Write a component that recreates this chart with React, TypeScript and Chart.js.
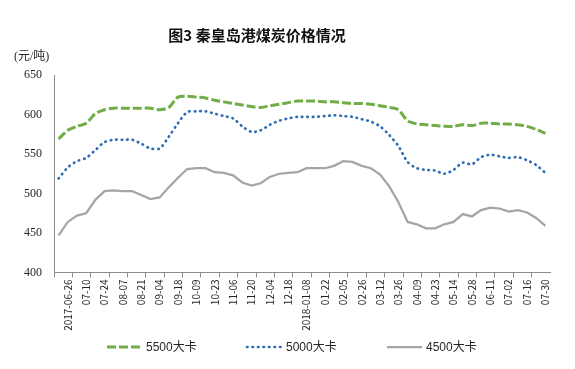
import { useEffect, useRef } from 'react';
import { Chart, registerables } from 'chart.js';

Chart.register(...registerables);

const chartTitle = '图3 秦皇岛港煤炭价格情况';
const unitLabel = '(元/吨)';

const categories = [
  '2017-06-19', '2017-06-26', '07-03', '07-10', '07-17', '07-24', '07-31', '08-07', '08-14', '08-21',
  '08-28', '09-04', '09-11', '09-18', '09-25', '10-09', '10-16', '10-23', '10-30', '11-06',
  '11-13', '11-20', '11-27', '12-04', '12-11', '12-18', '12-25', '2018-01-08', '01-15', '01-22',
  '01-29', '02-05', '02-12', '02-26', '03-05', '03-12', '03-19', '03-26', '04-02', '04-09',
  '04-16', '04-23', '04-30', '05-14', '05-21', '05-28', '06-04', '06-11', '06-18', '07-02',
  '07-09', '07-16', '07-23', '07-30',
];

const seriesNames = ['5500大卡', '5000大卡', '4500大卡'];

const kcal5500 = [
  569, 580, 585, 589, 601, 606, 608, 608, 608, 608,
  608, 606, 609, 622, 623, 622, 621, 618, 616, 614,
  612, 610, 609, 611, 613, 615, 617, 617, 617, 616,
  616, 615, 614, 614, 613, 611, 609, 606, 592, 588,
  587, 586, 585, 585, 587, 586, 589, 589, 588, 588,
  587, 585, 581, 576,
];

const kcal5000 = [
  519, 533, 541, 545, 555, 565, 568, 568, 568, 563,
  557, 557, 572, 589, 603, 604, 604, 601, 598, 595,
  585, 578, 580, 587, 592, 595, 597, 597, 597, 598,
  599, 598, 597, 594, 591, 585, 574, 560, 540, 532,
  530, 529, 525, 530, 539, 537, 546, 549, 547, 545,
  546, 542, 536, 526,
];

const kcal4500 = [
  447, 464, 472, 475, 492, 503, 504, 503, 503, 498,
  493, 495, 508, 520, 531, 532, 532, 527, 526, 523,
  514, 510, 513, 521, 525, 526, 527, 532, 532, 532,
  535, 541, 540, 535, 532, 524, 509, 489, 464, 461,
  456, 456, 461, 464, 474, 471, 479, 482, 481, 477,
  479, 476, 469, 459,
];

const yTicks = [400, 450, 500, 550, 600, 650];

const AXIS_COLOR = '#8c8c8c';
const TEXT_COLOR = '#262626';

const decorPlugin = {
  id: 'decor',
  afterDraw(chart: any) {
    const ctx = chart.ctx as CanvasRenderingContext2D;
    ctx.save();
    ctx.fillStyle = '#111';
    ctx.font = 'bold 15px "Noto Sans CJK SC", sans-serif';
    ctx.textAlign = 'center';
    ctx.textBaseline = 'middle';
    ctx.fillText(chartTitle, 257, 35);

    ctx.font = '12px "Liberation Serif", "Noto Sans CJK SC", serif';
    ctx.textAlign = 'left';
    ctx.fillStyle = TEXT_COLOR;
    ctx.fillText(unitLabel, 14, 57);

    const starts = [107, 247, 387];
    const ly = 347;
    chart.data.datasets.forEach((ds: any, i: number) => {
      const x = starts[i];
      ctx.beginPath();
      ctx.strokeStyle = ds.borderColor;
      ctx.lineWidth = ds.borderWidth;
      ctx.setLineDash(ds.borderDash || []);
      ctx.lineCap = ds.borderCapStyle || 'butt';
      ctx.moveTo(x, ly);
      ctx.lineTo(x + 35, ly);
      ctx.stroke();
      ctx.setLineDash([]);
      ctx.font = '12px "Liberation Sans", "Noto Sans CJK SC", sans-serif';
      ctx.fillStyle = TEXT_COLOR;
      ctx.textAlign = 'left';
      ctx.textBaseline = 'middle';
      ctx.fillText(ds.label, x + 39, ly + 1);
    });
    ctx.restore();
  },
};

export default function App() {
  const canvasRef = useRef<HTMLCanvasElement | null>(null);

  useEffect(() => {
    document.body.style.margin = '0';
    const canvas = canvasRef.current;
    if (!canvas) return;
    const chart = new Chart(canvas, {
      type: 'line',
      data: {
        labels: categories,
        datasets: [
          {
            label: seriesNames[0],
            data: kcal5500,
            borderColor: '#70AD47',
            borderWidth: 3,
            borderDash: [9, 3],
            borderCapStyle: 'butt',
            pointRadius: 0,
            tension: 0.3,
            fill: false,
          },
          {
            label: seriesNames[1],
            data: kcal5000,
            borderColor: '#2E6DB4',
            borderWidth: 2.7,
            borderDash: [0.5, 5],
            borderCapStyle: 'round',
            pointRadius: 0,
            tension: 0.3,
            fill: false,
          },
          {
            label: seriesNames[2],
            data: kcal4500,
            borderColor: '#A5A5A5',
            borderWidth: 2.25,
            pointRadius: 0,
            tension: 0,
            fill: false,
          },
        ],
      } as any,
      options: {
        animation: false,
        responsive: true,
        maintainAspectRatio: false,
        layout: { padding: { top: 75, right: 25, bottom: 0, left: 0 } },
        plugins: {
          legend: { display: false },
          title: { display: false },
          tooltip: { enabled: false },
        },
        scales: {
          x: {
            type: 'category',
            offset: true,
            grid: {
              offset: true,
              drawOnChartArea: false,
              drawTicks: true,
              tickLength: 5,
              color: (c: any) => (c.index % 2 === 0 ? AXIS_COLOR : 'rgba(0,0,0,0)'),
            },
            border: { display: true, color: AXIS_COLOR, width: 1 },
            ticks: {
              autoSkip: false,
              minRotation: 90,
              maxRotation: 90,
              padding: 2,
              color: TEXT_COLOR,
              font: { family: '"Noto Sans CJK SC", "Liberation Sans", sans-serif', size: 10 },
              callback: (_v: any, index: number) => (index % 2 === 1 ? categories[index] : ''),
            },
            afterFit: (s: any) => {
              s.height = 96.5;
            },
          },
          y: {
            min: 400,
            max: 650,
            grid: { display: true, drawOnChartArea: false, drawTicks: false },
            border: { display: true, color: AXIS_COLOR, width: 1 },
            ticks: {
              padding: 12,
              color: TEXT_COLOR,
              font: { family: '"Liberation Serif", serif', size: 12 },
            },
            afterBuildTicks: (s: any) => {
              s.ticks = yTicks.map((v) => ({ value: v }));
            },
            afterFit: (s: any) => {
              s.width = 54;
            },
          },
        },
      } as any,
      plugins: [decorPlugin],
    });
    return () => chart.destroy();
  }, []);

  return (
    <div style={{ position: 'relative', width: 575, height: 369 }}>
      <canvas ref={canvasRef} />
    </div>
  );
}
